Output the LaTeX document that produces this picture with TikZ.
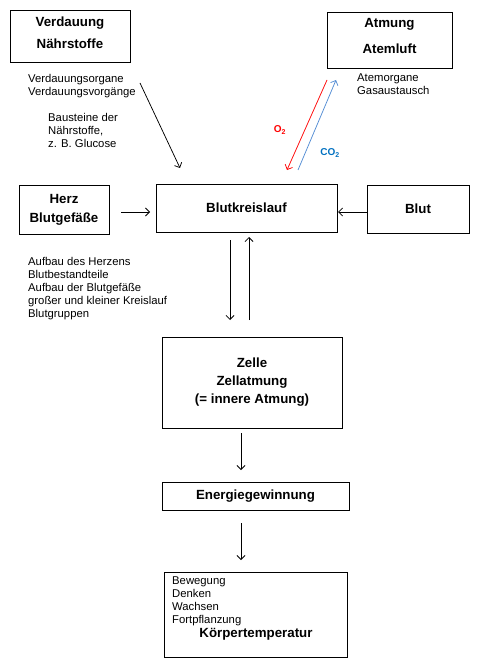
\documentclass[tikz,border=0pt]{standalone}
\usepackage{fontspec}
\setmainfont{Liberation Sans}
\usetikzlibrary{arrows.meta}
\definecolor{oxred}{RGB}{255,0,0}
\definecolor{coblue}{RGB}{84,141,212}
\definecolor{colabel}{RGB}{0,112,192}
\tikzstyle{box} = [rectangle, draw=black, line width=0.75pt, align=center, inner sep=0pt,
font=\fontsize{13.3}{15}\selectfont\bfseries]
\tikzstyle{note} = [align=left, inner sep=0pt, anchor=north west, font=\fontsize{11.3}{13}\selectfont]
\tikzstyle{arrow} = [line width=0.75pt, -{Straight Barb[length=4pt,width=8pt]}]

\begin{document}
\begin{tikzpicture}[x=1pt, y=-1pt]
        \useasboundingbox (0,0) rectangle (480,671);
        % boxes
        \node (V) [box, minimum width=120pt, minimum height=52pt] at (70,36) {Verdauung\\[7pt]Nährstoffe\\[-9pt]\mbox{}};
        \node (A) [box, minimum width=125pt, minimum height=56pt] at (389.5,40) {Atmung\\[11pt]Atemluft\\[-6pt]\mbox{}};
        \node (H) [box, minimum width=90pt, minimum height=49pt] at (64,209.5) {Herz\\[4pt]Blutgefäße};
        \node (K) [box, minimum width=181pt, minimum height=48pt] at (246.5,208) {Blutkreislauf};
        \node (B) [box, minimum width=102pt, minimum height=48pt] at (418,209) {Blut};
        \node (Z) [box, minimum width=180pt, minimum height=91pt] at (252,382.5) {Zelle\\[3pt]Zellatmung\\[3pt](= innere Atmung)};
        \node (E) [box, minimum width=187pt, minimum height=28pt] at (255.5,496) {Energiegewinnung};
        \node (F) [box, minimum width=183pt, minimum height=85pt] at (255.5,614.5) {};

        % texts
        \node (t1) [note] at (28,74) {Verdauungsorgane\\Verdauungsvorgänge};
        \node (t2) [note] at (48,113) {Bausteine der\\Nährstoffe,\\z. B. Glucose};
        \node (t3) [note] at (357,74) {Atemorgane\\Gasaustausch};
        \node (t4) [note] at (28,257) {Aufbau des Herzens\\Blutbestandteile\\Aufbau der Blutgefäße\\großer und kleiner Kreislauf\\Blutgruppen};
        \node (t5) [note] at (172,577) {Bewegung\\Denken\\Wachsen\\Fortpflanzung};
        \node (t6) [font=\fontsize{13.3}{15}\selectfont\bfseries, inner sep=0pt] at (256,634) {Körpertemperatur};
        \node (o2) [font=\fontsize{10}{12}\selectfont\bfseries, text=oxred, inner sep=0pt] at (280,130) {O\textsubscript{2}};
        \node (co2) [font=\fontsize{10}{12}\selectfont\bfseries, text=colabel, inner sep=0pt] at (330,153) {CO\textsubscript{2}};

        % free ends of the connectors
        \coordinate (VV) at (140,83);
        \coordinate (KV) at (180,168);
        \coordinate (AO) at (327,80);
        \coordinate (KO) at (287,170);
        \coordinate (KC) at (298,170);
        \coordinate (AC) at (336,80);
        \coordinate (HK) at (121,212);
        \coordinate (KH) at (150,212);
        \coordinate (BK) at (367,212);
        \coordinate (KB) at (338,212);
        \coordinate (KD) at (230,240);
        \coordinate (ZD) at (230,320);
        \coordinate (ZU) at (249,320);
        \coordinate (KU) at (249,237);
        \coordinate (ZE) at (241,433);
        \coordinate (EZ) at (241,470);
        \coordinate (EF) at (241,523);
        \coordinate (FE) at (241,560);

        \draw [arrow] (VV) -- (KV);
        \draw [arrow, draw=oxred] (AO) -- (KO);
        \draw [arrow, draw=coblue] (KC) -- (AC);
        \draw [arrow] (HK) -- (KH);
        \draw [arrow] (BK) -- (KB);
        \draw [arrow] (KD) -- (ZD);
        \draw [arrow] (ZU) -- (KU);
        \draw [arrow] (ZE) -- (EZ);
        \draw [arrow] (EF) -- (FE);

    \end{tikzpicture}
\end{document}
